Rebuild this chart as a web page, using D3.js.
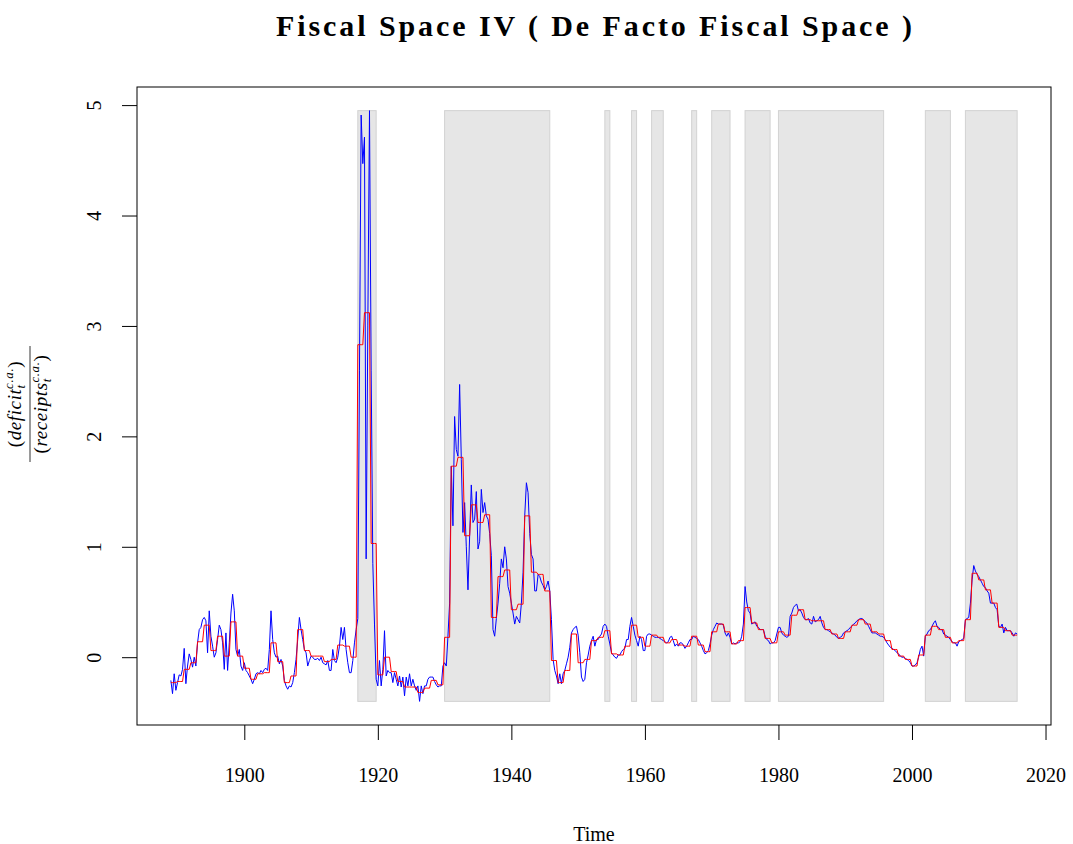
<!DOCTYPE html>
<html><head><meta charset="utf-8">
<script src="https://cdn.jsdelivr.net/npm/d3@7"></script>
<style>
body{margin:0;background:#fff;}
svg{display:block;}
text{font-family:"Liberation Serif","Times New Roman",serif;fill:#000;}
</style>
</head><body>
<svg id="chart" width="1073" height="844"></svg>
<script>
// ---------- DATA ----------
const startYear = 1889;
const quartersPerYear = 4;

// quarterly deficit/receipts ratio (blue), one row per year 1889..2015
const blueSeries = [
 -0.21,-0.33,-0.15,-0.30, -0.23,-0.16,-0.17,-0.11, 0.08,-0.24,-0.08,0.03, -0.02,-0.09,0.00,-0.08,
 0.13,0.25,0.27,0.34, 0.36,0.33,0.04,0.42, 0.19,0.10,0.00,0.04, 0.16,0.29,0.25,0.13,
 -0.11,0.22,-0.12,0.13, 0.40,0.57,0.42,0.07, 0.01,0.07,-0.08,-0.12,
 -0.05,-0.12,-0.14,-0.17, -0.20,-0.24,-0.20,-0.15, -0.14,-0.15,-0.12,-0.14, -0.11,-0.10,-0.12,0.07,
 0.42,0.16,0.04,0.00, 0.01,-0.06,-0.02,-0.08, -0.21,-0.26,-0.29,-0.26, -0.27,-0.23,-0.14,-0.02,
 0.16,0.36,0.25,0.16, 0.07,0.04,-0.08,-0.03, 0.01,0.00,-0.02,-0.02, -0.01,-0.03,0.00,-0.05,
 -0.06,-0.07,-0.03,-0.12, -0.12,0.07,-0.03,-0.05, 0.00,0.10,0.27,0.16, 0.27,0.07,-0.05,-0.14,
 -0.14,-0.03,0.13,0.25, 0.35,2.60,4.91,4.47, 4.71,0.89,3.00,4.95, 2.60,0.85,0.30,-0.20,
 -0.26,-0.03,-0.26,-0.11, 0.24,-0.17,-0.12,-0.14, -0.14,-0.23,-0.14,-0.20, -0.26,-0.17,-0.27,-0.18,
 -0.35,-0.18,-0.26,-0.15, -0.26,-0.20,-0.26,-0.30, -0.26,-0.40,-0.26,-0.33, -0.26,-0.26,-0.20,-0.18,
 -0.18,-0.18,-0.22,-0.25, -0.27,-0.26,-0.26,-0.08,
 -0.05,-0.08,0.19,0.49, 1.73,1.19,2.18,1.88, 1.82,2.47,1.79,1.13, 1.40,1.00,0.61,1.10,
 1.56,1.22,1.25,1.50, 0.98,1.05,1.52,1.31, 1.40,1.28,1.25,1.12, 0.92,0.25,0.19,0.35,
 0.49,0.67,0.89,0.81, 1.00,0.89,0.64,0.58, 0.49,0.40,0.30,0.37, 0.34,0.31,0.49,0.77,
 1.28,1.58,1.49,1.12, 0.93,0.89,0.60,0.60, 0.75,0.73,0.68,0.65, 0.61,0.64,0.69,0.60,
 0.34,-0.02,-0.12,-0.17, -0.24,-0.15,-0.24,-0.15, -0.12,-0.06,0.00,0.09, 0.22,0.25,0.27,0.28,
 0.20,0.04,-0.18,-0.22, -0.20,-0.05,0.02,0.10, 0.15,0.19,0.10,0.16, 0.16,0.19,0.21,0.28,
 0.30,0.28,0.19,0.12, 0.04,0.02,0.00,-0.01, 0.02,0.02,0.05,0.07, 0.08,0.16,0.16,0.28,
 0.36,0.28,0.20,0.15, 0.10,0.19,0.16,0.06, 0.06,0.19,0.21,0.21, 0.20,0.19,0.18,0.18,
 0.18,0.17,0.16,0.15, 0.14,0.13,0.14,0.18, 0.19,0.15,0.10,0.12, 0.10,0.13,0.13,0.11,
 0.08,0.10,0.13,0.16, 0.16,0.19,0.18,0.17, 0.16,0.13,0.10,0.06, 0.03,0.04,0.06,0.12,
 0.20,0.25,0.28,0.31, 0.30,0.30,0.30,0.29, 0.22,0.19,0.22,0.18, 0.12,0.13,0.12,0.13,
 0.13,0.14,0.19,0.30, 0.64,0.50,0.42,0.40, 0.30,0.31,0.32,0.28, 0.27,0.25,0.25,0.25,
 0.19,0.16,0.15,0.12, 0.13,0.13,0.15,0.21, 0.27,0.27,0.22,0.20, 0.19,0.18,0.19,0.37,
 0.40,0.45,0.47,0.48, 0.42,0.43,0.40,0.36, 0.34,0.34,0.35,0.31, 0.30,0.37,0.32,0.33,
 0.34,0.37,0.31,0.27, 0.25,0.25,0.24,0.23, 0.22,0.21,0.20,0.18, 0.17,0.18,0.19,0.22,
 0.23,0.24,0.25,0.27, 0.28,0.30,0.31,0.33, 0.34,0.35,0.35,0.34, 0.32,0.31,0.28,0.25,
 0.22,0.22,0.22,0.21, 0.20,0.19,0.19,0.18, 0.16,0.13,0.11,0.09, 0.08,0.07,0.06,0.04,
 0.03,0.01,0.00,0.00, -0.01,-0.02,-0.03,-0.05, -0.08,-0.08,-0.07,-0.05, 0.00,0.07,0.10,0.01,
 0.19,0.21,0.24,0.25, 0.28,0.31,0.33,0.28, 0.27,0.25,0.25,0.21, 0.20,0.19,0.18,0.16,
 0.14,0.13,0.13,0.10, 0.14,0.15,0.16,0.17, 0.34,0.35,0.36,0.49, 0.70,0.83,0.78,0.75,
 0.73,0.70,0.67,0.64, 0.63,0.60,0.58,0.49, 0.49,0.49,0.45,0.43, 0.28,0.27,0.30,0.22,
 0.27,0.24,0.24,0.24, 0.22,0.19,0.22,0.21
];

// annual values (red), 1889..2015
const redAnnual = [
 -0.23,-0.22,-0.11,-0.05,0.14,0.29,0.06,0.19,0.01,0.32,0.01,
 -0.10,-0.20,-0.15,-0.14,0.13,-0.04,-0.23,-0.17,0.25,0.06,
 0.01,0.01,-0.04,-0.02,0.11,0.10,0.00,2.83,3.12,1.03,
 -0.16,0.00,-0.13,-0.22,-0.27,-0.27,-0.32,-0.28,-0.21,-0.25,
 0.18,1.73,1.81,1.10,1.38,1.22,1.29,0.36,0.73,0.79,
 0.43,0.48,1.28,0.77,0.75,0.60,-0.03,-0.23,-0.12,0.21,
 -0.05,-0.02,0.15,0.18,0.24,0.03,0.02,0.10,0.29,0.18,
 0.10,0.20,0.18,0.13,0.16,0.11,0.10,0.19,0.11,0.05,
 0.23,0.30,0.23,0.12,0.15,0.45,0.31,0.25,0.17,0.13,
 0.23,0.20,0.38,0.43,0.34,0.33,0.33,0.25,0.21,0.17,
 0.23,0.29,0.34,0.30,0.23,0.21,0.15,0.07,0.01,-0.02,
 -0.08,0.02,0.20,0.28,0.25,0.18,0.13,0.15,0.34,0.76,
 0.70,0.61,0.49,0.27,0.24,0.20
];

// shaded periods [start, end] in years
const shadedPeriods = [
 [1917.0,1919.75],[1930.0,1945.75],[1954.0,1954.75],[1958.0,1958.75],
 [1961.0,1962.75],[1967.0,1967.75],[1970.0,1972.75],[1975.0,1978.75],
 [1980.0,1995.75],[2002.0,2005.75],[2008.0,2015.75]
];

const xTicks = [1900,1920,1940,1960,1980,2000,2020];
const yTicks = [0,1,2,3,4,5];
const titleText = "Fiscal Space IV ( De Facto Fiscal Space )";
const xLabelText = "Time";

// ---------- BUILD ----------
const bluePts = blueSeries.map((v,i)=>({t:startYear + i/quartersPerYear, v}));
const redPts = [];
redAnnual.forEach((v,j)=>{ for(let q=0;q<quartersPerYear;q++) redPts.push({t:startYear+j+q/quartersPerYear, v}); });

const plot = {left:137, right:1051, top:87, bottom:725};
const svg = d3.select("#chart");

function pad(ext){ const d=(ext[1]-ext[0])*0.04; return [ext[0]-d, ext[1]+d]; }
const tExt = d3.extent(bluePts, d=>d.t);
const vExt = d3.extent(bluePts.concat(redPts), d=>d.v);
const x = d3.scaleLinear().domain(pad(tExt)).range([plot.left, plot.right]);
const y = d3.scaleLinear().domain(pad(vExt)).range([plot.bottom, plot.top]);

// shaded bands span the data extent
const bandExt = d3.extent(bluePts, d=>d.v);
svg.append("g").selectAll("rect").data(shadedPeriods).join("rect")
  .attr("x", d=>x(d[0])).attr("width", d=>x(d[1])-x(d[0]))
  .attr("y", y(bandExt[1])).attr("height", y(bandExt[0])-y(bandExt[1]))
  .attr("fill","#e6e6e6").attr("stroke","#d2d2d2").attr("stroke-width",1);

const line = d3.line().x(d=>x(d.t)).y(d=>y(d.v));
svg.append("path").datum(bluePts).attr("d",line).attr("fill","none")
  .attr("stroke","#0000ff").attr("stroke-width",1).attr("stroke-linejoin","round");
svg.append("path").datum(redPts).attr("d",line).attr("fill","none")
  .attr("stroke","#ff0000").attr("stroke-width",1).attr("stroke-linejoin","round");

// box
svg.append("rect").attr("x",plot.left).attr("y",plot.top)
  .attr("width",plot.right-plot.left).attr("height",plot.bottom-plot.top)
  .attr("fill","none").attr("stroke","#000").attr("stroke-width",1);

// x axis
const gx = svg.append("g").attr("transform",`translate(0,${plot.bottom})`)
  .call(d3.axisBottom(x).tickValues(xTicks).tickSize(15).tickFormat(d3.format("d")));
gx.select(".domain").remove();
gx.selectAll("line").attr("stroke","#000");
gx.selectAll("text").attr("y",57).attr("dy",null).style("font-size","20px").style("font-family",'"Liberation Serif",serif');

// y axis
const gy = svg.append("g").attr("transform",`translate(${plot.left},0)`)
  .call(d3.axisLeft(y).tickValues(yTicks).tickSize(15).tickFormat(d3.format("d")));
gy.select(".domain").remove();
gy.selectAll("line").attr("stroke","#000");
gy.selectAll("text").attr("x",null).attr("dy",null)
  .attr("text-anchor","middle")
  .attr("transform","translate(-36,0) rotate(-90)")
  .style("font-size","20px").style("font-family",'"Liberation Serif",serif');

// title
svg.append("text").attr("x",(plot.left+plot.right)/2).attr("y",36)
  .attr("text-anchor","middle").attr("textLength",636).attr("lengthAdjust","spacing")
  .style("font-weight","bold").style("font-size","30px").text(titleText);

// x label
svg.append("text").attr("x",(plot.left+plot.right)/2).attr("y",841)
  .attr("text-anchor","middle").style("font-size","20px").text(xLabelText);

// y label (fraction)
const yl = svg.append("g").attr("transform",`translate(30,${(plot.top+plot.bottom)/2 - 2}) rotate(-90)`);
yl.append("line").attr("x1",-58).attr("x2",58).attr("y1",0).attr("y2",0)
  .attr("stroke","#000").attr("stroke-width",0.8);
function frac(yPos, word){
  const t = yl.append("text").attr("text-anchor","middle").attr("y",yPos)
    .style("font-size","19px").style("font-style","italic").style("letter-spacing","0.6px");
  t.append("tspan").style("font-style","normal").text("(");
  t.append("tspan").text(word);
  t.append("tspan").attr("dy",4).style("font-size","13px").text("t");
  t.append("tspan").attr("dx",-4.5).attr("dy",-12).style("font-size","13px").text("c.a.");
  t.append("tspan").attr("dy",8).style("font-style","normal").text(")");
}
frac(-9,"deficit");
frac(17,"receipts");
</script>
</body></html>
